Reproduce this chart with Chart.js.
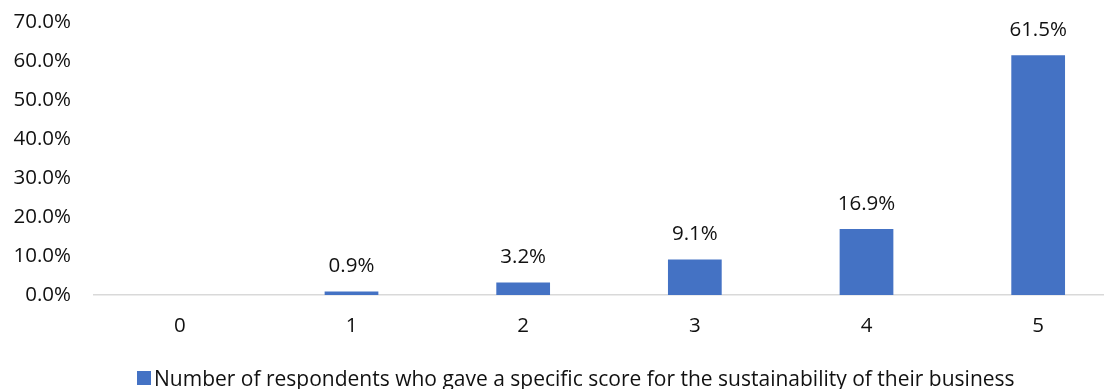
<!DOCTYPE html>
<html>
<head>
<meta charset="utf-8">
<script src="https://cdn.jsdelivr.net/npm/chart.js@4/dist/chart.umd.min.js"></script>
<style>
  html, body { margin: 0; padding: 0; background: #fff; overflow: hidden; width: 1104px; height: 389px; }
  #wrap { position: absolute; left: 0; top: 0; width: 1124px; height: 389px; }
  #legend { position: absolute; left: 137px; top: 366px; height: 24px; display: flex; align-items: center;
            font-family: "Open Sans", "Liberation Sans", sans-serif; font-size: 21px; color: #111; white-space: nowrap; }
  #legend .sw { width: 14px; height: 14px; background: #4472C4; margin-right: 3px; }
</style>
</head>
<body>
<div id="wrap"><canvas id="c"></canvas></div>
<div id="legend"><span class="sw"></span><span id="legtext"></span></div>
<script>
const categories = ['0', '1', '2', '3', '4', '5'];
const seriesName = 'Number of respondents who gave a specific score for the sustainability of their business';
const values = [null, 0.9, 3.2, 9.1, 16.9, 61.5];
const yTicks = [0, 10, 20, 30, 40, 50, 60, 70];

const FONT = '"Open Sans", "Liberation Sans", sans-serif';
const FSIZE = 20.5;
document.getElementById('legtext').textContent = seriesName;

const labelPlugin = {
  id: 'barLabels',
  afterDatasetsDraw(chart) {
    const ctx = chart.ctx;
    const meta = chart.getDatasetMeta(0);
    ctx.save();
    ctx.font = FSIZE + 'px ' + FONT;
    ctx.fillStyle = '#111';
    ctx.textAlign = 'center';
    ctx.textBaseline = 'middle';
    meta.data.forEach((el, i) => {
      const v = values[i];
      if (v === null || v === undefined) return;
      ctx.fillText(v.toFixed(1) + '%', el.x, el.y - 25);
    });
    ctx.restore();
  }
};

new Chart(document.getElementById('c'), {
  type: 'bar',
  data: {
    labels: categories,
    datasets: [{
      label: seriesName,
      data: values,
      backgroundColor: '#4472C4',
      borderWidth: 0,
      barPercentage: 0.313,
      categoryPercentage: 1.0
    }]
  },
  options: {
    responsive: true,
    maintainAspectRatio: false,
    animation: false,
    layout: { padding: { top: 22, right: 0, left: 0, bottom: 0 } },
    plugins: {
      legend: { display: false },
      tooltip: { enabled: false }
    },
    scales: {
      x: {
        grid: { display: false, drawTicks: false },
        border: { display: true, color: '#d9d9d9', width: 1.5 },
        ticks: { font: { family: FONT, size: FSIZE }, color: '#111', padding: 19 },
        afterFit(scale) { scale.height = 94; scale.paddingLeft = 0; scale.paddingRight = 0; }
      },
      y: {
        min: 0, max: 70,
        grid: { display: false, drawTicks: false },
        border: { display: false },
        afterBuildTicks(scale) { scale.ticks = yTicks.map(v => ({ value: v })); },
        ticks: {
          font: { family: FONT, size: FSIZE }, color: '#111', padding: 23,
          callback: (v) => Number(v).toFixed(1) + '%'
        },
        afterFit(scale) { scale.width = 94; scale.paddingTop = 0; scale.paddingBottom = 0; }
      }
    }
  },
  plugins: [labelPlugin]
});
</script>
</body>
</html>
